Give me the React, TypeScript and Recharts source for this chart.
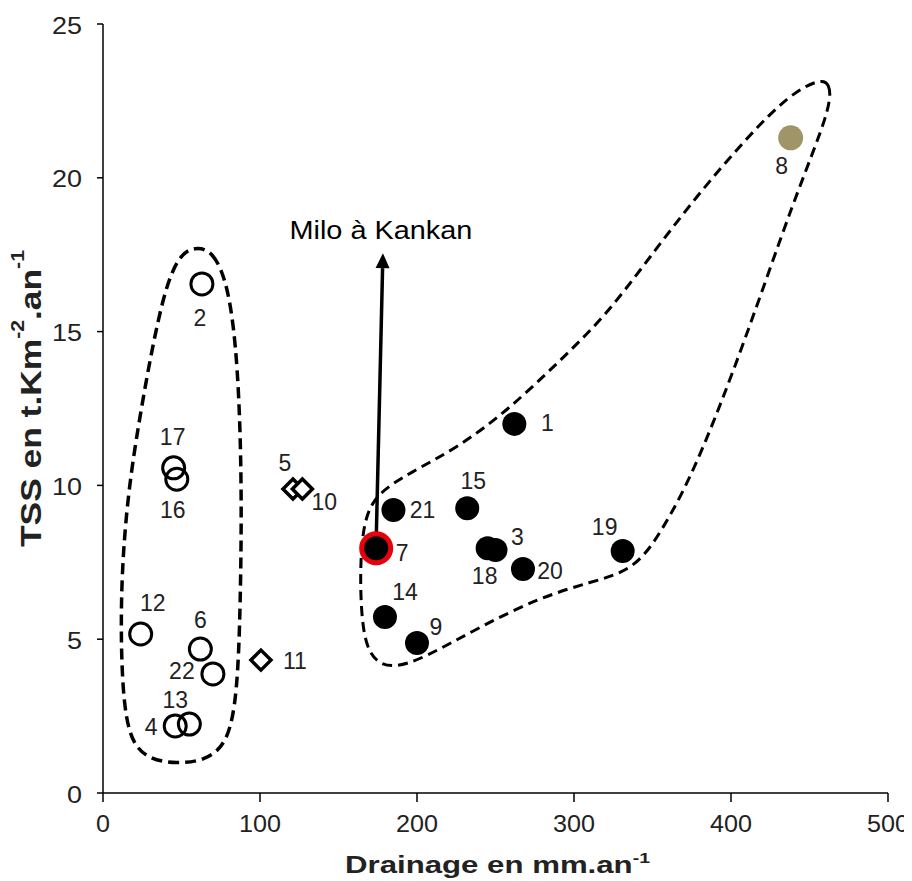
import React from "react";
import {
  ScatterChart,
  Scatter,
  XAxis,
  YAxis,
  ReferenceLine,
} from "recharts";

// open circles (left group)
const openIds = ["2", "17", "16", "12", "6", "22", "13", "4"];
const openX = [63, 45, 47, 24, 62, 70, 55, 46];
const openY = [16.55, 10.57, 10.2, 5.17, 4.68, 3.87, 2.24, 2.18];

// diamonds
const diamondIds = ["5", "10", "11"];
const diamondX = [121, 127, 100.6];
const diamondY = [9.88, 9.88, 4.32];

// filled circles (right group)
const filledIds = ["1", "21", "15", "18", "3", "20", "19", "14", "9"];
const filledX = [262, 185, 232, 245, 250, 267.5, 331, 179.6, 200];
const filledY = [12.0, 9.2, 9.26, 7.96, 7.9, 7.28, 7.87, 5.72, 4.88];

// Milo à Kankan
const miloIds = ["7"];
const miloX = [174];
const miloY = [7.96];

// outlier
const outlierIds = ["8"];
const outlierX = [438];
const outlierY = [21.3];

// dashed envelopes (spline control points)
const leftEnvX = [58, 70, 80, 86, 88.5, 87.5, 85.5, 79.5, 65, 47, 28, 15.5, 11.5, 11.5, 16, 23, 31, 40, 49];
const leftEnvY = [17.75, 17.65, 16.5, 14, 10, 6, 3.2, 1.6, 1.05, 0.95, 1.1, 1.8, 4, 7, 9.8, 12.1, 14.4, 16.5, 17.5];
const rightEnvX = [456, 463, 464, 440, 409, 378, 357, 339, 310, 278, 240, 205, 183, 168, 164, 164, 167, 175, 195, 225, 257, 290, 320, 348, 378, 410, 437];
const rightEnvY = [23.2, 23.1, 22.3, 19.3, 14.7, 10.6, 8.6, 7.25, 6.85, 6.35, 5.4, 4.4, 4.0, 4.45, 6.0, 7.8, 9.0, 9.75, 10.4, 11.2, 12.4, 14.0, 15.5, 17.4, 19.4, 21.3, 22.7];

// arrow
const arrowFrom = { x: 174, y: 8.2 };
const arrowTo = { x: 178.3, y: 17.55 };
const arrowLabel = "Milo à Kankan";

const xTicks = [0, 100, 200, 300, 400, 500];
const yTicks = [0, 5, 10, 15, 20, 25];

// label offsets in px (dx, dy from the marker centre)
const labelOffset: Record<string, [number, number]> = {
  "2": [-2, 34],
  "17": [-1, -31],
  "16": [-4, 31],
  "12": [12, -31],
  "6": [0, -29],
  "22": [-31, -3],
  "13": [-14, -24],
  "4": [-24, 1],
  "5": [-8, -26],
  "10": [22, 13],
  "11": [34, 1],
  "7": [26, 5],
  "21": [29, 0],
  "15": [6, -27],
  "1": [33, -1],
  "3": [22, -13],
  "18": [-3, 28],
  "20": [27, 2],
  "19": [-18, -24],
  "14": [20, -25],
  "9": [19, -16],
  "8": [-9, 28],
};

const FONT = "'Liberation Sans', Arial, sans-serif";

const build = (ids: string[], xs: number[], ys: number[]) =>
  ids.map((id, i) => ({ id, x: xs[i], y: ys[i] }));

const openData = build(openIds, openX, openY);
const diamondData = build(diamondIds, diamondX, diamondY);
const filledData = build(filledIds, filledX, filledY);
const miloData = build(miloIds, miloX, miloY);
const outlierData = build(outlierIds, outlierX, outlierY);
const leftEnv = leftEnvX.map((x, i) => ({ x, y: leftEnvY[i] }));
const rightEnv = rightEnvX.map((x, i) => ({ x, y: rightEnvY[i] }));

const Label = ({ cx, cy, id }: { cx: number; cy: number; id: string }) => {
  const [dx, dy] = labelOffset[id] || [0, 0];
  return (
    <text
      x={cx + dx}
      y={cy + dy}
      textAnchor="middle"
      dominantBaseline="central"
      fontFamily={FONT}
      fontSize={23}
      fill="#222"
    >
      {id}
    </text>
  );
};

const OpenShape = (p: any) => (
  <g>
    <circle cx={p.cx} cy={p.cy} r={11} fill="none" stroke="#000" strokeWidth={3} />
    <Label cx={p.cx} cy={p.cy} id={p.payload.id} />
  </g>
);

const DiamondShape = (p: any) => {
  const s = 10;
  const { cx, cy } = p;
  return (
    <g>
      <polygon
        points={`${cx},${cy - s} ${cx + s},${cy} ${cx},${cy + s} ${cx - s},${cy}`}
        fill="#fff"
        stroke="#000"
        strokeWidth={3.5}
      />
      <Label cx={cx} cy={cy} id={p.payload.id} />
    </g>
  );
};

const FilledShape = (p: any) => (
  <g>
    <circle cx={p.cx} cy={p.cy} r={12} fill="#000" />
    <Label cx={p.cx} cy={p.cy} id={p.payload.id} />
  </g>
);

const MiloShape = (p: any) => (
  <g>
    <circle cx={p.cx} cy={p.cy} r={14.5} fill="#000" stroke="#e8000b" strokeWidth={5} />
    <Label cx={p.cx} cy={p.cy} id={p.payload.id} />
  </g>
);

const OutlierShape = (p: any) => (
  <g>
    <circle cx={p.cx} cy={p.cy} r={12.5} fill="#a09568" />
    <Label cx={p.cx} cy={p.cy} id={p.payload.id} />
  </g>
);

const NoShape = () => <g />;

const ArrowShape = (p: any) => {
  const { x1, y1, x2, y2 } = p;
  const ang = Math.atan2(y2 - y1, x2 - x1);
  const len = 15;
  const w = 7;
  const bx = x2 - len * Math.cos(ang);
  const by = y2 - len * Math.sin(ang);
  const nx = -Math.sin(ang) * w;
  const ny = Math.cos(ang) * w;
  return (
    <g>
      <line x1={x1} y1={y1} x2={bx} y2={by} stroke="#000" strokeWidth={3.5} />
      <polygon
        points={`${x2},${y2} ${bx + nx},${by + ny} ${bx - nx},${by - ny}`}
        fill="#000"
      />
      <text
        x={x2 - 2}
        y={y2 - 14}
        textAnchor="middle"
        fontFamily={FONT}
        fontSize={26}
        textLength={183}
        lengthAdjust="spacingAndGlyphs"
        fill="#000"
      >
        {arrowLabel}
      </text>
    </g>
  );
};

const XTick = (p: any) => {
  const label = String(p.payload.value);
  return (
    <text
      x={p.x}
      y={p.y + 19}
      textAnchor="middle"
      dominantBaseline="central"
      fontFamily={FONT}
      fontSize={24}
      textLength={14 * label.length}
      lengthAdjust="spacingAndGlyphs"
      fill="#222"
    >
      {label}
    </text>
  );
};

const YTick = (p: any) => {
  const label = String(p.payload.value);
  const w = 15 * label.length;
  return (
    <text
      x={p.x - w}
      y={p.y + 1}
      textAnchor="start"
      dominantBaseline="central"
      fontFamily={FONT}
      fontSize={24}
      textLength={w}
      lengthAdjust="spacingAndGlyphs"
      fill="#222"
    >
      {label}
    </text>
  );
};

export default function App() {
  return (
    <div style={{ width: 904, height: 873, background: "#fff" }}>
      <ScatterChart
        width={904}
        height={873}
        margin={{ top: 16, right: 24, bottom: 0, left: 0 }}
      >
        <XAxis
          type="number"
          dataKey="x"
          domain={[0, 500]}
          ticks={xTicks}
          interval={0}
          height={88}
          axisLine={{ stroke: "#000", strokeWidth: 1.5 }}
          tickLine={{ stroke: "#000", strokeWidth: 1.5 }}
          tickSize={9}
          tick={XTick}
          label={(props: any) => {
            const vb = props.viewBox;
            return (
              <text
                x={345 - 8}
                y={vb.y + 80}
                textAnchor="start"
                fontFamily={FONT}
                fontSize={24}
                fontWeight="bold"
                textLength={305}
                lengthAdjust="spacingAndGlyphs"
                fill="#222"
              >
                Drainage en mm.an
                <tspan fontSize={15} dy={-10}>-1</tspan>
              </text>
            );
          }}
        />
        <YAxis
          type="number"
          dataKey="y"
          domain={[0, 25]}
          ticks={yTicks}
          interval={0}
          width={95}
          axisLine={{ stroke: "#000", strokeWidth: 1.5 }}
          tickLine={{ stroke: "#000", strokeWidth: 1.5 }}
          tickSize={6}
          tickMargin={15}
          tick={YTick}
          label={() => {
            const cx = 30 - 8;
            const cy = 547 - 8;
            return (
              <text
                x={cx}
                y={cy}
                transform={`rotate(-90 ${cx} ${cy})`}
                textAnchor="start"
                dominantBaseline="central"
                fontFamily={FONT}
                fontSize={30}
                fontWeight="bold"
                textLength={297}
                lengthAdjust="spacingAndGlyphs"
                fill="#222"
              >
                TSS en t.Km
                <tspan fontSize={18} dy={-12}>-2</tspan>
                <tspan dy={12}>.an</tspan>
                <tspan fontSize={18} dy={-12}>-1</tspan>
              </text>
            );
          }}
        />
        <Scatter
          data={leftEnv}
          shape={NoShape}
          line={{ stroke: "#000", strokeWidth: 3.5, strokeDasharray: "11 6" }}
          lineType="joint"
          lineJointType="basisClosed"
          fill="none"
          isAnimationActive={false}
        />
        <Scatter
          data={rightEnv}
          shape={NoShape}
          line={{ stroke: "#000", strokeWidth: 3, strokeDasharray: "10 6" }}
          lineType="joint"
          lineJointType="basisClosed"
          fill="none"
          isAnimationActive={false}
        />
        <ReferenceLine
          segment={[arrowFrom, arrowTo]}
          shape={ArrowShape}
          ifOverflow="visible"
        />
        <Scatter data={openData} shape={OpenShape} isAnimationActive={false} />
        <Scatter data={diamondData} shape={DiamondShape} isAnimationActive={false} />
        <Scatter data={filledData} shape={FilledShape} isAnimationActive={false} />
        <Scatter data={outlierData} shape={OutlierShape} isAnimationActive={false} />
        <Scatter data={miloData} shape={MiloShape} isAnimationActive={false} />
      </ScatterChart>
    </div>
  );
}
